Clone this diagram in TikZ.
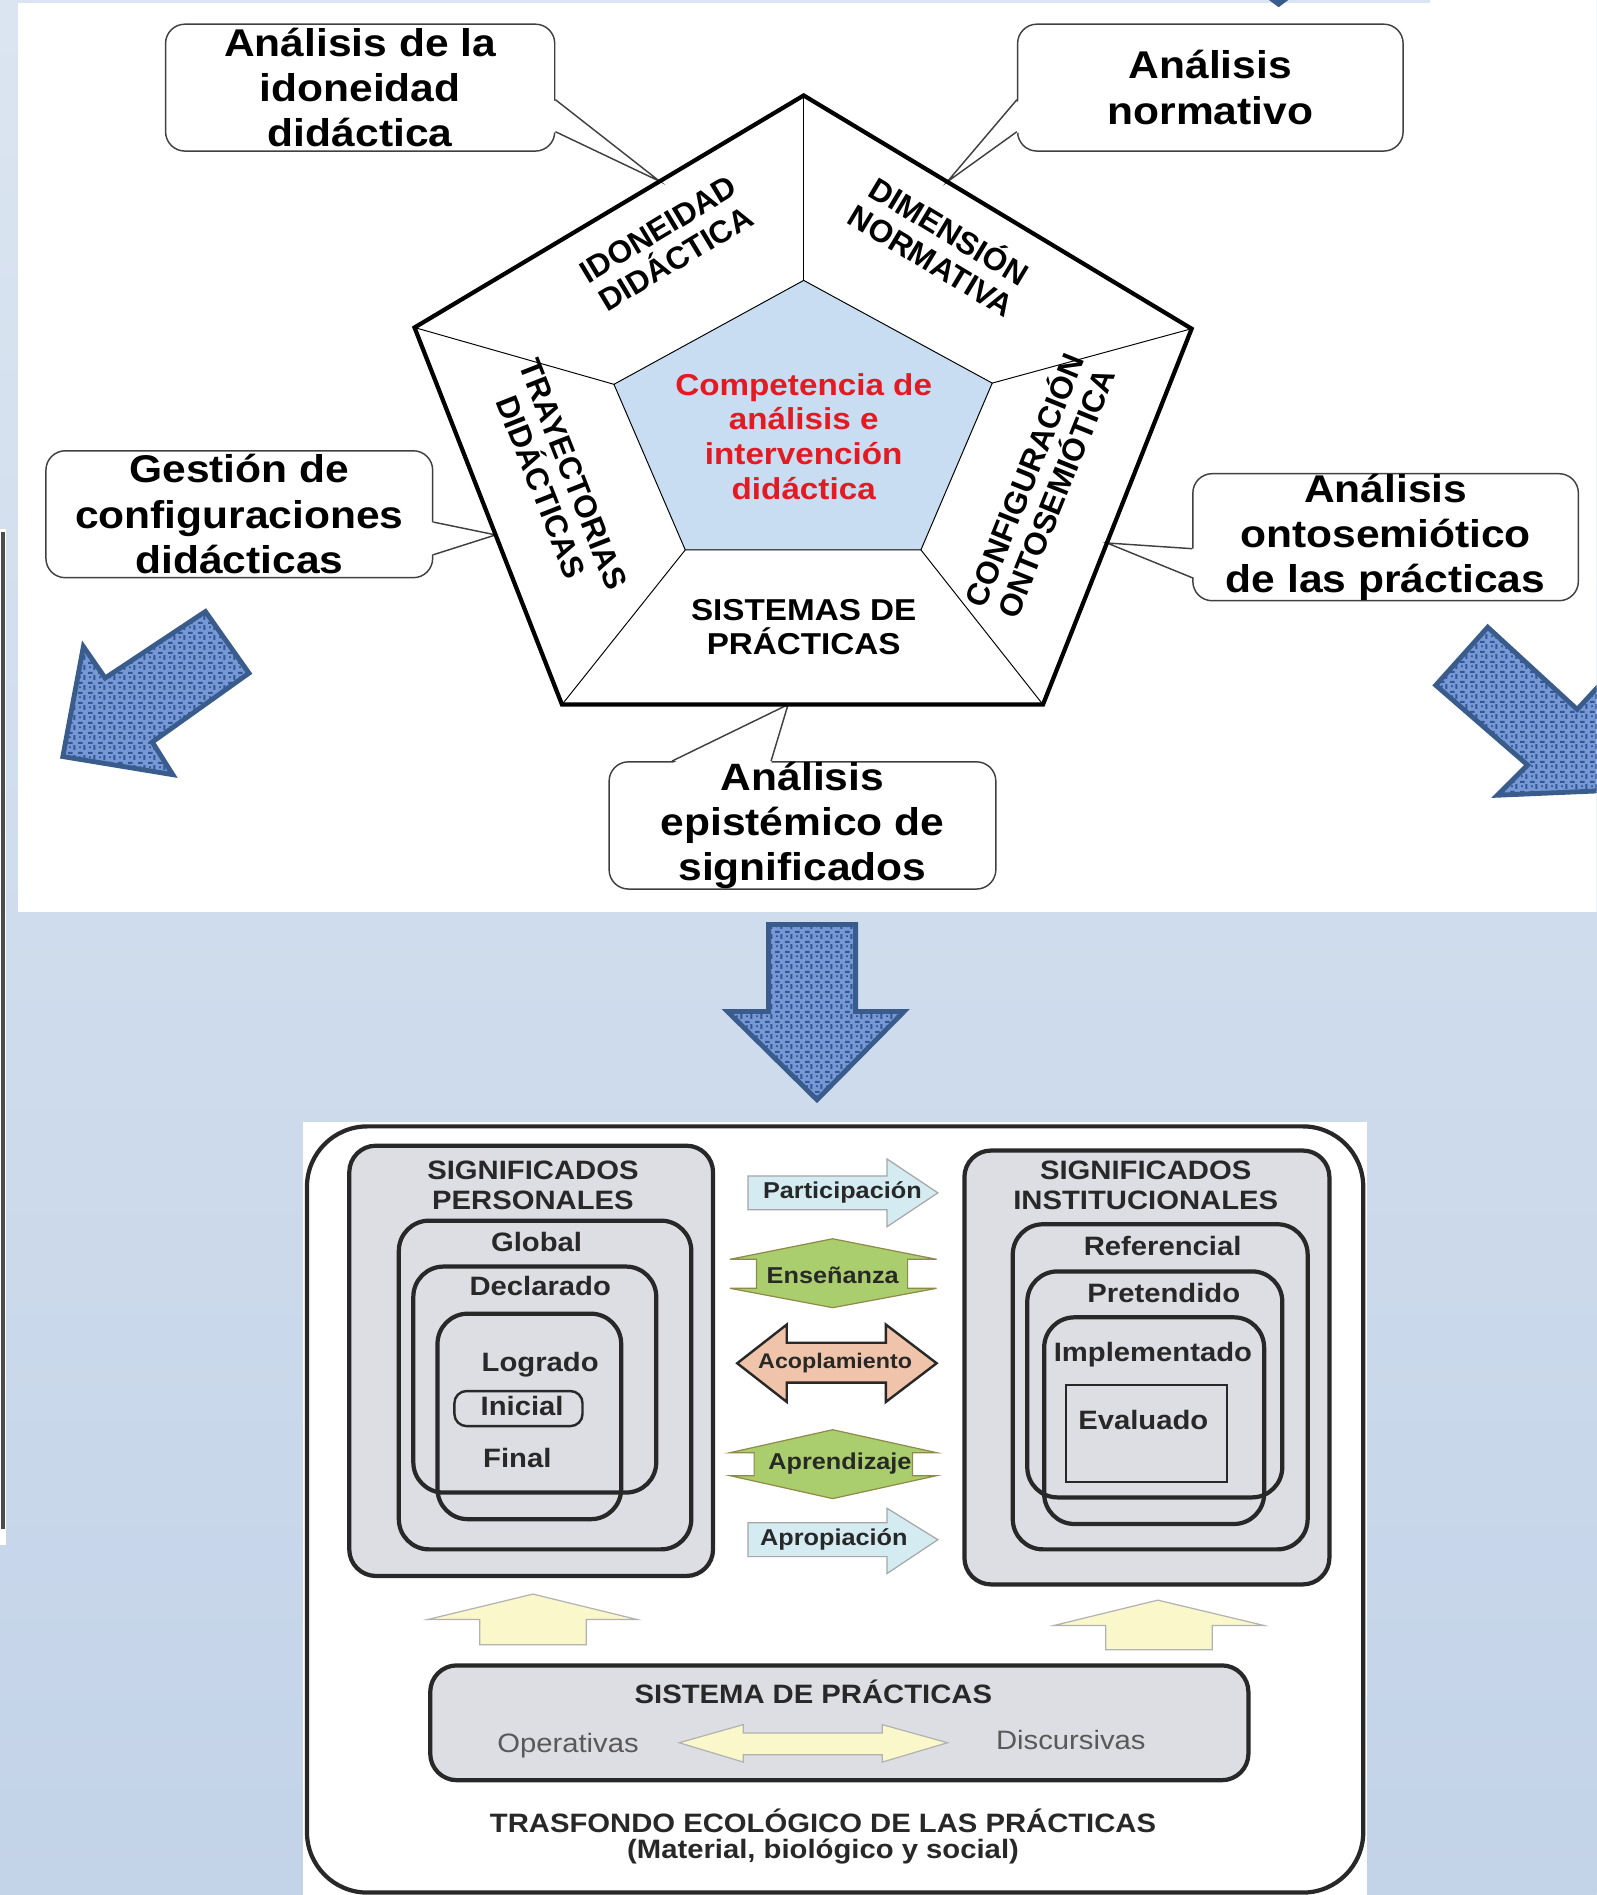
\documentclass[tikz,border=0pt]{standalone}
\usepackage{fontspec}
\setmainfont{Liberation Sans}[FakeStretch=1.1]
\newfontfamily\plainsans{Liberation Sans}
\usetikzlibrary{calc,patterns}

\definecolor{bgtop}{RGB}{219,229,241}
\definecolor{bgbot}{RGB}{195,211,232}
\definecolor{innerblue}{RGB}{200,221,241}
\definecolor{redtxt}{RGB}{226,26,34}
\definecolor{bluearr}{RGB}{118,152,212}
\definecolor{bluedark}{RGB}{52,86,150}
\definecolor{blueedge}{RGB}{58,92,140}
\definecolor{boxgray}{RGB}{221,222,227}
\definecolor{cyanarr}{RGB}{212,236,241}
\definecolor{greenarr}{RGB}{170,206,110}
\definecolor{peach}{RGB}{240,196,170}
\definecolor{yell}{RGB}{250,248,202}
\definecolor{ink}{RGB}{40,40,40}

\pgfdeclarepatternformonly{weave}{\pgfqpoint{0pt}{0pt}}{\pgfqpoint{8pt}{8pt}}{\pgfqpoint{8pt}{8pt}}{
    \pgfpathrectangle{\pgfqpoint{0pt}{0pt}}{\pgfqpoint{4pt}{1.8pt}}
    \pgfpathrectangle{\pgfqpoint{4.5pt}{3.5pt}}{\pgfqpoint{1.8pt}{4pt}}
    \pgfpathrectangle{\pgfqpoint{1pt}{5pt}}{\pgfqpoint{1.5pt}{1.5pt}}
    \pgfusepath{fill}
}

\begin{document}
\begin{tikzpicture}[x=1pt,y=-1pt]
            \tikzstyle{callbox}=[draw=black!75, line width=1.2, rounded corners=16, fill=white, inner sep=0pt, align=center, font=\fontsize{32}{37.5}\selectfont\bfseries]
            \tikzstyle{callline}=[draw=black!75, line width=1.2]
            \tikzstyle{seglabel}=[align=center, font=\fontsize{25}{28}\selectfont\bfseries]
            \tikzstyle{rotlabel}=[align=center, font=\plainsans\fontsize{26}{28.5}\selectfont\bfseries]
            \tikzstyle{redlabel}=[align=center, text=redtxt, font=\fontsize{25}{28.7}\selectfont\bfseries]
            \tikzstyle{bigarrow}=[draw=blueedge, line width=4, line join=miter, preaction={fill=bluearr}, preaction={pattern=weave, pattern color=bluedark}]
            \tikzstyle{graybox}=[draw=ink, fill=boxgray, line width=3.5, rounded corners=22]
            \tikzstyle{nest}=[draw=ink, line width=3.5, rounded corners=25]
            \tikzstyle{btext}=[align=center, text=ink, font=\fontsize{22}{25}\selectfont\bfseries]
            \tikzstyle{atext}=[text=ink, font=\fontsize{19}{22}\selectfont\bfseries]
            \tikzstyle{thinarrow}=[line width=1, line join=miter]
            \useasboundingbox (0,0) rectangle (1321,1568);
            \clip (0,0) rectangle (1321,1568);
            \shade[top color=bgtop, bottom color=bgbot] (0,0) rectangle (1321,1568);
            \fill[white] (15,2.5) rectangle (1321,755);
            \fill[white] (1183,0) rectangle (1321,2.5);
            \fill[white] (0,438) rectangle (5,1278);
            \fill[black!70] (1,440) rectangle (4.5,1265);
            \fill[blueedge] (1050,0) -- (1066,0) -- (1058,6) -- cycle;

            \coordinate (oT) at (665,79);
            \coordinate (oR) at (986,272);
            \coordinate (oLR) at (863,583);
            \coordinate (oLL) at (465,583);
            \coordinate (oL) at (343,271);
            \coordinate (iT) at (665,232);
            \coordinate (iR) at (821,317);
            \coordinate (iLR) at (762,455);
            \coordinate (iLL) at (567,455);
            \coordinate (iL) at (508,318);

            \node[callbox, minimum width=322, minimum height=105] (cIdo) at (298,72.5) {Análisis de la\\idoneidad\\didáctica};
            \node[callbox, minimum width=319, minimum height=105] (cNor) at (1001.5,72.5) {Análisis\\normativo};
            \node[callbox, minimum width=320, minimum height=105] (cGes) at (198,425.5) {Gestión de\\configuraciones\\didácticas};
            \node[callbox, minimum width=319, minimum height=105] (cOnt) at (1146.5,444.5) {Análisis\\ontosemiótico\\de las prácticas};
            \node[callbox, minimum width=320, minimum height=104] (cEpi) at (664,683) {Análisis\\epistémico de\\significados};

            \coordinate (wIdo) at ($(oL)!0.63!(oT)$);
            \coordinate (wNor) at ($(oT)!0.37!(oR)$);
            \coordinate (wGes) at ($(oL)!0.55!(oLL)$);
            \coordinate (wOnt) at ($(oR)!0.57!(oLR)$);
            \coordinate (wEpi) at ($(oLL)!0.47!(oLR)$);
            \fill[white] ($(cIdo.east)+(-2,10)$) -- (wIdo) -- ($(cIdo.east)+(-2,36.5)$) -- cycle;
            \draw[callline] ($(cIdo.east)+(0,10)$) -- (wIdo) -- ($(cIdo.east)+(0,36.5)$);
            \fill[white] ($(cNor.west)+(2,10)$) -- (wNor) -- ($(cNor.west)+(2,36.5)$) -- cycle;
            \draw[callline] ($(cNor.west)+(0,10)$) -- (wNor) -- ($(cNor.west)+(0,36.5)$);
            \fill[white] ($(cGes.east)+(-2,6.5)$) -- (wGes) -- ($(cGes.east)+(-2,33.5)$) -- cycle;
            \draw[callline] ($(cGes.east)+(0,6.5)$) -- (wGes) -- ($(cGes.east)+(0,33.5)$);
            \fill[white] ($(cOnt.west)+(2,9.5)$) -- (wOnt) -- ($(cOnt.west)+(2,33.5)$) -- cycle;
            \draw[callline] ($(cOnt.west)+(0,9.5)$) -- (wOnt) -- ($(cOnt.west)+(0,33.5)$);
            \fill[white] ($(cEpi.north)+(-108,2)$) -- (wEpi) -- ($(cEpi.north)+(-26,2)$) -- cycle;
            \draw[callline] ($(cEpi.north)+(-108,0)$) -- (wEpi) -- ($(cEpi.north)+(-26,0)$);

            \filldraw[fill=innerblue, line width=0.8] (iT) -- (iR) -- (iLR) -- (iLL) -- (iL) -- cycle;
            \foreach \a/\b in {iT/oT, iR/oR, iLR/oLR, iLL/oLL, iL/oL}
                \draw[line width=0.8] (\a) -- (\b);
            \draw[line width=3.5, line join=miter] (oT) -- (oR) -- (oLR) -- (oLL) -- (oL) -- cycle;

            \node[rotlabel, rotate=31] (lIdo) at (552,202) {IDONEIDAD\\DIDÁCTICA};
            \node[rotlabel, rotate=-31] (lNor) at (779,202) {DIMENSIÓN\\NORMATIVA};
            \node[rotlabel, rotate=68] (lOnt) at (859,402) {CONFIGURACIÓN\\ONTOSEMIÓTICA};
            \node[rotlabel, rotate=-68.5] (lTra) at (461,398) {TRAYECTORIAS\\DIDÁCTICAS};
            \node[seglabel] (lSis) at (665,519) {SISTEMAS DE\\PRÁCTICAS};
            \node[redlabel] (comp) at (665,361) {Competencia de\\análisis e\\intervención\\didáctica};

            \draw[bigarrow] (52,626) -- (69,535) -- (87,561) -- (170,506) -- (206,557) -- (126,614) -- (143,641) -- cycle;
            \draw[bigarrow] (1231,519) -- (1305,587) -- (1329,561) -- (1332,654) -- (1239,658) -- (1264,633) -- (1188,567) -- cycle;
            \draw[bigarrow] (636,765) -- (708,765) -- (708,837) -- (748,837) -- (676,910) -- (602,837) -- (636,837) -- cycle;

            \fill[white] (251,928) rectangle (1131,1568);
            \draw[draw=ink, line width=3.5, rounded corners=50] (254,932) rectangle (1128,1566);

            \draw[graybox] (289,948) rectangle (590,1304);
            \draw[graybox] (798,952) rectangle (1100,1311);
            \draw[nest] (330,1010) rectangle (572,1282);
            \draw[nest] (342,1048) rectangle (543,1235);
            \draw[nest] (362,1087) rectangle (514,1257);
            \draw[draw=ink, line width=2, rounded corners=10] (376,1151) rectangle (482,1180);
            \draw[nest] (838,1013) rectangle (1082,1282);
            \draw[nest] (850,1052) rectangle (1061,1239);
            \draw[nest] (864,1090) rectangle (1046,1261);
            \draw[draw=ink, line width=1.5] (882,1146) rectangle (1015,1226);

            \node[btext] (sPer) at (441,981) {SIGNIFICADOS\\PERSONALES};
            \node[btext] (glob) at (444,1028) {Global};
            \node[btext] (decl) at (447,1064) {Declarado};
            \node[btext] (logr) at (447,1129) {Logrado};
            \node[btext] (inic) at (432,1163) {Inicial};
            \node[btext] (fina) at (428,1206) {Final};
            \node[btext] (sIns) at (948,981) {SIGNIFICADOS\\INSTITUCIONALES};
            \node[btext] (refe) at (962,1031) {Referencial};
            \node[btext] (pret) at (963,1070) {Pretendido};
            \node[btext] (impl) at (954,1121) {Implementado};
            \node[btext] (eval) at (946,1175) {Evaluado};

            \draw[thinarrow, draw=gray!70, fill=cyanarr] (619,973) -- (734,973) -- (734,959) -- (776,987) -- (734,1015) -- (734,1001) -- (619,1001) -- cycle;
            \draw[thinarrow, draw=olive!50!gray, fill=greenarr] (689,1025) -- (775,1042) -- (751,1042) -- (751,1066) -- (775,1066) -- (689,1082) -- (604,1066) -- (626,1066) -- (626,1042) -- (604,1042) -- cycle;
            \draw[line width=2, line join=miter, draw=ink, fill=peach] (610,1128) -- (651,1096) -- (651,1111) -- (733,1111) -- (733,1096) -- (775,1128) -- (733,1160) -- (733,1144) -- (651,1144) -- (651,1160) -- cycle;
            \draw[thinarrow, draw=olive!50!gray, fill=greenarr] (689,1183) -- (775,1202) -- (755,1202) -- (755,1221) -- (775,1221) -- (689,1240) -- (604,1221) -- (624,1221) -- (624,1202) -- (604,1202) -- cycle;
            \draw[thinarrow, draw=gray!70, fill=cyanarr] (619,1260) -- (734,1260) -- (734,1248) -- (776,1274) -- (734,1302) -- (734,1288) -- (619,1288) -- cycle;
            \node[atext] (part) at (697,987) {Participación};
            \node[atext] (ense) at (689,1055) {Enseñanza};
            \node[atext, font=\fontsize{17.5}{20}\selectfont\bfseries] (acop) at (691,1128) {Acoplamiento};
            \node[atext] (apre) at (695,1211) {Aprendizaje};
            \node[atext] (apro) at (690,1274) {Apropiación};

            \draw[thinarrow, draw=gray!60, fill=yell] (441,1319) -- (527,1340) -- (485,1340) -- (485,1361) -- (397,1361) -- (397,1340) -- (354,1340) -- cycle;
            \draw[thinarrow, draw=gray!60, fill=yell] (958,1324) -- (1046,1345) -- (1003,1345) -- (1003,1365) -- (915,1365) -- (915,1345) -- (872,1345) -- cycle;

            \draw[graybox] (356,1378) rectangle (1033,1473);
            \node[btext] (sPra) at (673,1400) {SISTEMA DE PRÁCTICAS};
            \node[btext, font=\fontsize{22}{25}\selectfont, text=black!65] (oper) at (470,1444) {Operativas};
            \node[btext, font=\fontsize{22}{25}\selectfont, text=black!65] (disc) at (886,1440) {Discursivas};
            \draw[thinarrow, draw=gray!60, fill=yell] (562,1442) -- (615,1427) -- (615,1434) -- (730,1434) -- (730,1427) -- (784,1442) -- (730,1458) -- (730,1452) -- (615,1452) -- (615,1458) -- cycle;

            \node[btext] (tras) at (681,1507) {TRASFONDO ECOLÓGICO DE LAS PRÁCTICAS};
            \node[btext] (mate) at (681,1532) {(Material, biológico y social)};
        \end{tikzpicture}
\end{document}
